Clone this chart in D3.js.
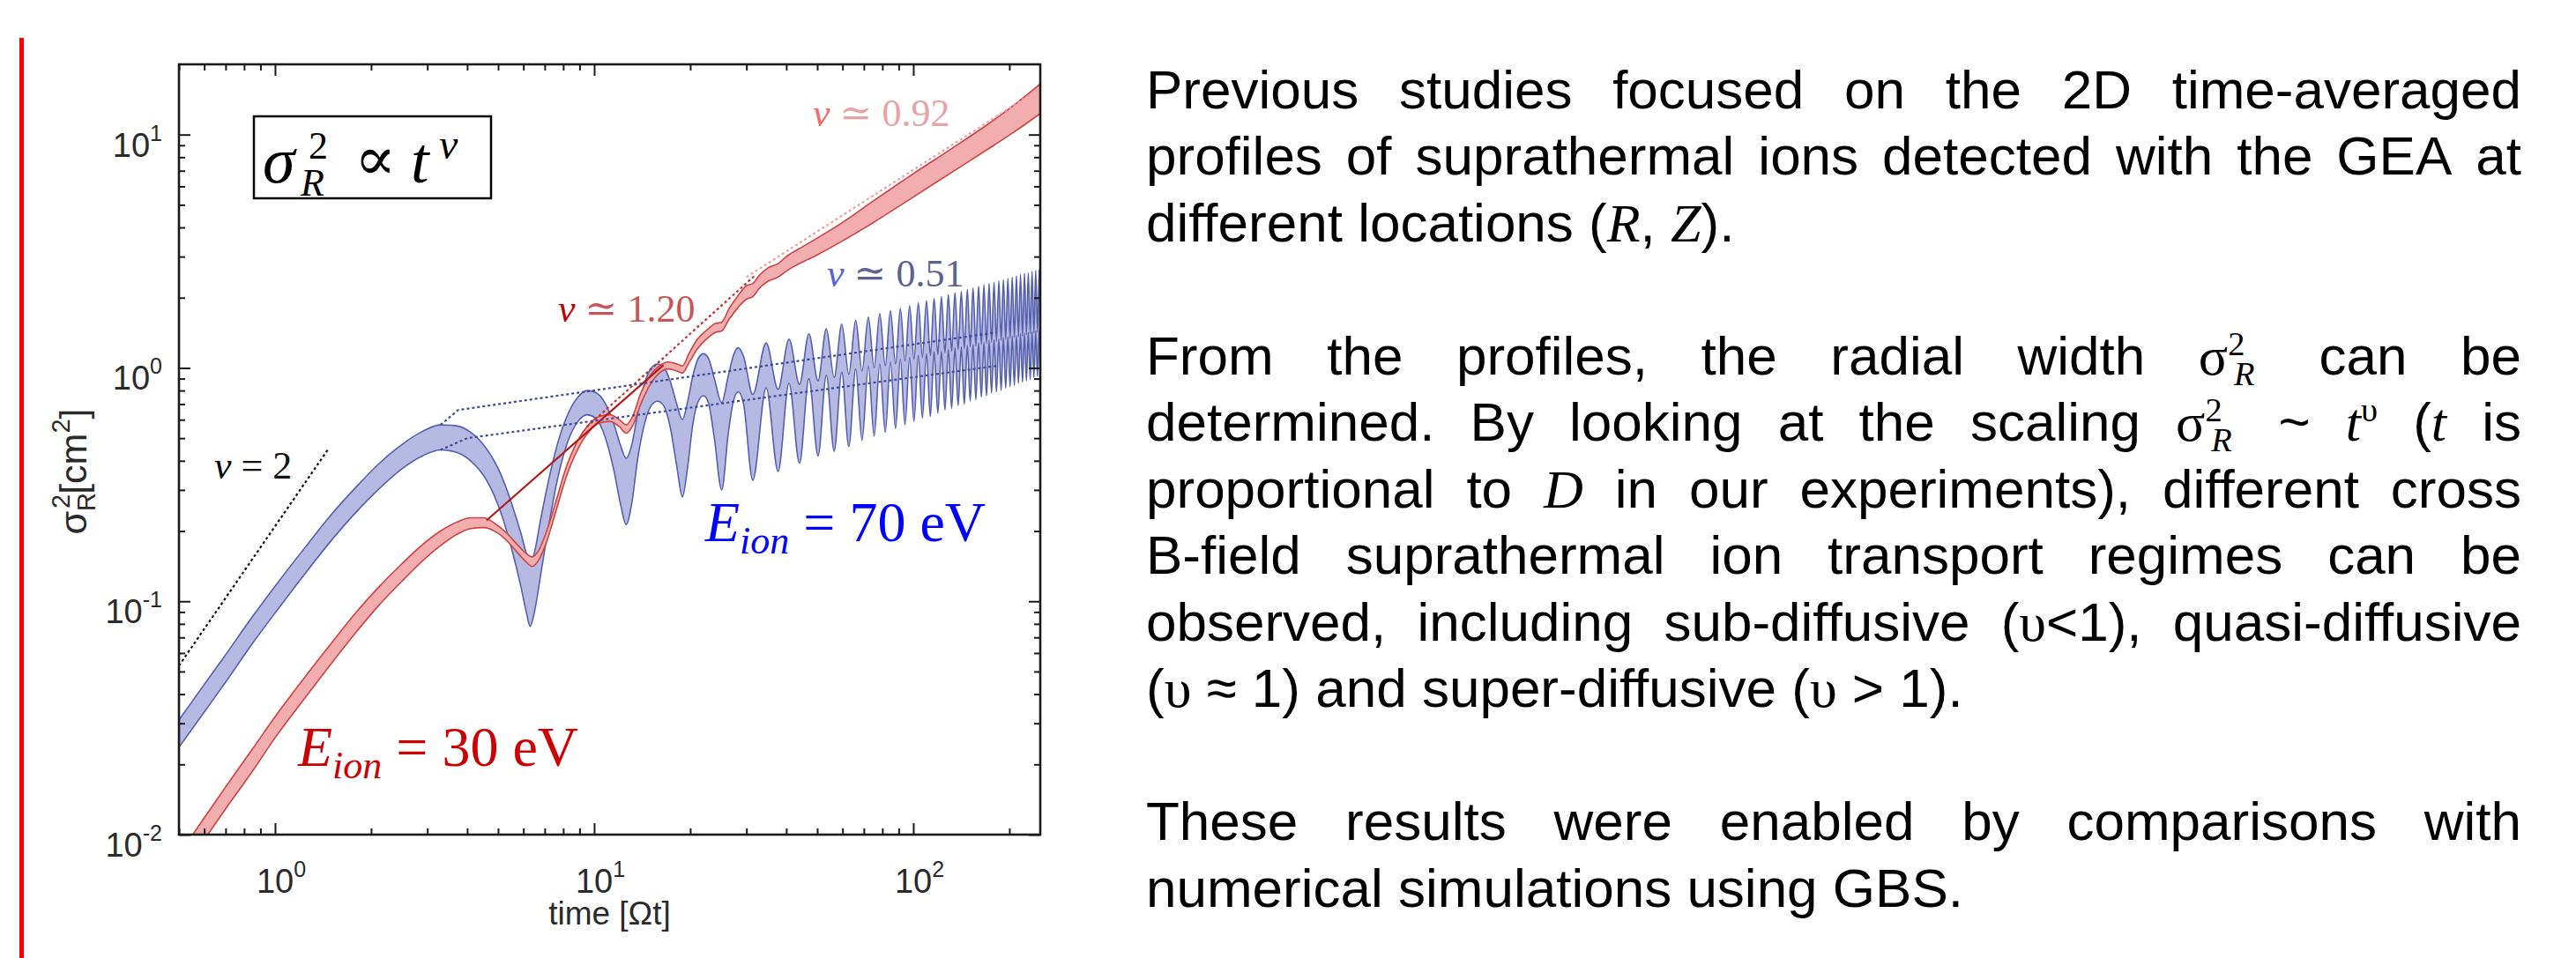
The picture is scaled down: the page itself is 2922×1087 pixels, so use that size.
<!DOCTYPE html>
<html>
<head>
<meta charset="utf-8">
<script src="https://cdn.jsdelivr.net/npm/d3@7"></script>
<style>
  body{margin:0;background:#fff}
  svg{display:block}
</style>
</head>
<body>
<svg id="slide"></svg>
<script>
// ---- values (time in units of Omega t, sigma_R^2 in cm^2) ----
var xMajor = [1, 10, 100]
var xExp = ["0", "1", "2"]
var xMinor = [0.5,0.6,0.7,0.8,0.9,2,3,4,5,6,7,8,9,20,30,40,50,60,70,80,90,200]
var yMajor = [0.01, 0.1, 1, 10]
var yExp = ["-2", "-1", "0", "1"]
var yMinor = [0.02,0.03,0.04,0.05,0.06,0.07,0.08,0.09,0.2,0.3,0.4,0.5,0.6,0.7,0.8,0.9,2,3,4,5,6,7,8,9]

// E_ion = 70 eV band
var blueTime = [0.5,0.6,0.7,0.85,1,1.25,1.5,1.8,2.1,2.5,2.9,3.3,3.7,4.1,4.6,5.1,5.5,5.9,6.15,6.3,
  6.5,6.8,7.2,7.7,8.3,8.9,9.5,10.1,10.8,11.5,12.1,12.6,13.1,13.7,14.4,15.1,15.8,16.5,17.3,18.2,
  18.9,19.6,20.4,21.2,22.0,22.8,23.8,25.1,26.3,27.3,28.3,29.4,31.4,
  34.6,37.7,40.8,44.0,47.1,50.3,53.4,56.5,59.7,62.8,66.0,69.1,72.3,75.4,78.5,81.7,84.8,88.0,
  91.1,94.2,97.4,100.5,103.7,106.8,110.0,113.1,116.2,119.4,122.5,125.7,128.8,131.9,135.1,138.2,
  141.4,144.5,147.7,150.8,153.9,157.1,160.2,163.4,166.5,169.6,172.8,175.9,179.1,182.2,185.4,188.5,
  191.6,194.8,197.9,201.1,204.2,207.3,210.5,213.6,216.8,219.9,223.1,226.2,229.3,232.5,235.6,238.8,
  241.9,245.0,248.2,250]
var blueUpper = [0.031,0.044,0.059,0.086,0.116,0.172,0.235,0.31,0.385,0.47,0.535,0.57,0.565,0.53,0.45,
  0.35,0.265,0.195,0.158,0.145,0.162,0.225,0.33,0.48,0.64,0.75,0.80,0.785,0.71,0.58,0.465,0.41,0.465,
  0.64,0.86,1.0,1.04,1.01,0.88,0.69,0.60,0.71,0.93,1.1,1.15,1.1,0.9,0.71,0.92,1.13,1.22,1.12,0.77,
  1.28,0.81,1.33,0.85,1.40,0.88,1.47,0.91,1.54,0.94,1.60,0.97,1.65,1.00,1.71,1.02,1.76,1.04,1.80,1.07,
  1.85,1.09,1.90,1.11,1.94,1.13,1.98,1.14,2.02,1.16,2.06,1.18,2.10,1.20,2.13,1.21,2.17,1.23,2.20,1.24,
  2.24,1.26,2.27,1.27,2.30,1.29,2.33,1.30,2.36,1.31,2.39,1.33,2.42,1.34,2.45,1.35,2.48,1.36,2.51,1.37,
  2.54,1.39,2.56,1.40,2.59,1.41,2.62,1.42,2.64,2.6]
var blueLower = [0.0237,0.0335,0.045,0.066,0.089,0.133,0.182,0.242,0.30,0.37,0.42,0.445,0.435,0.40,0.33,
  0.24,0.17,0.115,0.088,0.078,0.09,0.13,0.21,0.34,0.49,0.59,0.63,0.61,0.51,0.37,0.26,0.213,0.26,
  0.41,0.58,0.69,0.72,0.69,0.56,0.37,0.28,0.37,0.58,0.72,0.76,0.71,0.5,0.30,0.52,0.72,0.79,0.7,0.33,
  0.82,0.36,0.86,0.39,0.90,0.42,0.93,0.44,0.96,0.46,0.99,0.49,1.02,0.51,1.04,0.53,1.06,0.55,1.09,0.57,
  1.11,0.59,1.13,0.61,1.15,0.62,1.17,0.64,1.18,0.66,1.20,0.67,1.22,0.69,1.23,0.70,1.25,0.72,1.26,0.73,
  1.28,0.75,1.29,0.76,1.31,0.78,1.32,0.79,1.33,0.80,1.35,0.82,1.36,0.83,1.37,0.84,1.38,0.86,1.40,0.87,
  1.41,0.88,1.42,0.89,1.43,0.91,1.44,0.92,1.45,1.43]

// E_ion = 30 eV band
var redTime = [0.5,0.6,0.7,0.85,1,1.25,1.5,1.8,2.1,2.5,2.9,3.3,3.7,4.1,4.5,4.9,5.3,5.7,6.1,6.4,
  6.7,7.1,7.6,8.2,8.9,9.6,10.4,11.2,12.0,12.6,13.2,14.0,15.0,16.0,17.0,18.2,18.9,19.8,21,22.5,
  24,25.1,26.5,28.3,30,31.4,33,35,37.7,40,44,50,60,75,100,130,170,210,250]
var redUpper = [0.0082,0.0118,0.016,0.0233,0.032,0.048,0.066,0.09,0.114,0.145,0.175,0.2,0.218,0.228,0.228,
  0.215,0.197,0.177,0.161,0.155,0.165,0.2,0.27,0.38,0.49,0.57,0.62,0.63,0.60,0.57,0.62,0.78,0.93,1.02,1.06,
  1.04,1.02,1.15,1.32,1.45,1.55,1.57,1.8,2.05,2.25,2.3,2.5,2.68,2.8,3.0,3.25,3.6,4.2,5.2,6.8,8.6,11.0,13.6,16.5]
var redLower = [0.0066,0.0095,0.0129,0.0187,0.026,0.039,0.054,0.074,0.095,0.122,0.149,0.173,0.193,0.205,0.207,
  0.199,0.183,0.164,0.148,0.141,0.15,0.18,0.245,0.345,0.45,0.53,0.58,0.59,0.56,0.525,0.565,0.70,0.85,0.95,0.99,
  0.97,0.95,1.05,1.2,1.33,1.42,1.44,1.62,1.82,1.97,2.02,2.2,2.35,2.45,2.6,2.8,3.05,3.5,4.2,5.4,6.8,8.6,10.4,12.3]

// fitted power laws
var fit2 = [[0.5,0.053],[1.47,0.45]]
var fit120 = [[4.6,0.222],[16.5,1.03]]
var fit120dots = [[9.5,0.56],[32,2.5]]
var fit092dots = [[30,2.45],[250,15.8]]
var fit051hi = [[3.3,0.57],[3.75,0.66],[182,1.42]]
var fit051lo = [[3.3,0.445],[4.0,0.5],[182,1.02]]

// ---- layout ----
var W = 2922, H = 1087
var box = {left:203, top:73, right:1180, bottom:947}
var sans = "Arial, 'Liberation Sans', sans-serif"
var serif = "'Liberation Serif', 'Times New Roman', 'DejaVu Serif', serif"

var svg = d3.select("#slide").attr("width", W).attr("height", H)
svg.append("rect").attr("width", W).attr("height", H).attr("fill", "#fff")

// red bar on the left of the slide
svg.append("line")
   .attr("x1", 24.5).attr("x2", 24.5).attr("y1", 43).attr("y2", H)
   .attr("stroke", "#ff0000").attr("stroke-width", 5)

var x = d3.scaleLog().domain([0.5, 250]).range([box.left, box.right])
var y = d3.scaleLog().domain([0.01, 20]).range([box.bottom, box.top])

svg.append("clipPath").attr("id", "plotclip")
   .append("rect").attr("x", box.left).attr("y", box.top)
   .attr("width", box.right - box.left).attr("height", box.bottom - box.top)

var plot = svg.append("g").attr("clip-path", "url(#plotclip)")

var blueBand = blueTime.map((t, i) => ({t: t, hi: blueUpper[i], lo: blueLower[i]}))
var redBand = redTime.map((t, i) => ({t: t, hi: redUpper[i], lo: redLower[i]}))

var area = d3.area()
  .x(d => x(d.t)).y0(d => y(d.lo)).y1(d => y(d.hi))
  .curve(d3.curveMonotoneX)
var edge = key => d3.line().x(d => x(d.t)).y(d => y(d[key])).curve(d3.curveMonotoneX)
var straight = d3.line().x(d => x(d[0])).y(d => y(d[1]))

plot.append("path").datum(blueBand).attr("d", area).attr("fill", "#b6bae3")
plot.append("path").datum(blueBand).attr("d", edge("hi")).attr("fill", "none").attr("stroke", "#5560ad").attr("stroke-width", 1.6)
plot.append("path").datum(blueBand).attr("d", edge("lo")).attr("fill", "none").attr("stroke", "#5560ad").attr("stroke-width", 1.6)

plot.append("path").datum(redBand).attr("d", area).attr("fill", "#f2aeae")
plot.append("path").datum(redBand).attr("d", edge("hi")).attr("fill", "none").attr("stroke", "#cc4444").attr("stroke-width", 1.6)
plot.append("path").datum(redBand).attr("d", edge("lo")).attr("fill", "none").attr("stroke", "#cc4444").attr("stroke-width", 1.6)

plot.append("path").datum(fit120).attr("d", straight).attr("fill", "none").attr("stroke", "#b31b1b").attr("stroke-width", 2.2)
plot.append("path").datum(fit120dots).attr("d", straight).attr("fill", "none").attr("stroke", "#c03030").attr("stroke-width", 2.2).attr("stroke-dasharray", "3,3")
plot.append("path").datum(fit092dots).attr("d", straight).attr("fill", "none").attr("stroke", "#f0a0a0").attr("stroke-width", 2.2).attr("stroke-dasharray", "3,3")
plot.append("path").datum(fit051hi).attr("d", straight).attr("fill", "none").attr("stroke", "#3d4a9c").attr("stroke-width", 2.2).attr("stroke-dasharray", "3,3")
plot.append("path").datum(fit051lo).attr("d", straight).attr("fill", "none").attr("stroke", "#3d4a9c").attr("stroke-width", 2.2).attr("stroke-dasharray", "3,3")
plot.append("path").datum(fit2).attr("d", straight).attr("fill", "none").attr("stroke", "#111").attr("stroke-width", 2.2).attr("stroke-dasharray", "3,3")

// ---- axes: inward ticks on all four sides ----
function ticks(axisFn, scale, values, len, transform){
  var g = svg.append("g").attr("transform", transform)
     .call(axisFn(scale).tickValues(values).tickSize(-len).tickFormat(""))
  g.select(".domain").remove()
  g.selectAll("line").attr("stroke", "#1a1a1a").attr("stroke-width", 2)
}
ticks(d3.axisBottom, x, xMajor, 13, `translate(0,${box.bottom})`)
ticks(d3.axisBottom, x, xMinor, 7, `translate(0,${box.bottom})`)
ticks(d3.axisTop, x, xMajor, 13, `translate(0,${box.top})`)
ticks(d3.axisTop, x, xMinor, 7, `translate(0,${box.top})`)
ticks(d3.axisLeft, y, yMajor, 13, `translate(${box.left},0)`)
ticks(d3.axisLeft, y, yMinor, 7, `translate(${box.left},0)`)
ticks(d3.axisRight, y, yMajor, 13, `translate(${box.right},0)`)
ticks(d3.axisRight, y, yMinor, 7, `translate(${box.right},0)`)

svg.append("rect")
   .attr("x", box.left).attr("y", box.top)
   .attr("width", box.right - box.left).attr("height", box.bottom - box.top)
   .attr("fill", "none").attr("stroke", "#1a1a1a").attr("stroke-width", 2.6)

// tick labels 10^n
svg.selectAll(".xlab").data(xMajor).enter()
  .append("text").attr("class", "xlab")
  .attr("x", d => x(d) - 21).attr("y", 1013)
  .attr("font-family", sans).attr("font-size", 38).attr("fill", "#2a2a2a")
  .each(function(d, i){
    var t = d3.select(this)
    t.append("tspan").text("10")
    t.append("tspan").text(xExp[i]).attr("font-size", 25).attr("dy", -18)
  })

svg.selectAll(".ylab").data(yMajor).enter()
  .append("text").attr("class", "ylab")
  .attr("x", 184).attr("y", d => y(d) + 25)
  .attr("text-anchor", "end")
  .attr("font-family", sans).attr("font-size", 38).attr("fill", "#2a2a2a")
  .each(function(d, i){
    var t = d3.select(this)
    t.append("tspan").text("10")
    t.append("tspan").text(yExp[i]).attr("font-size", 25).attr("dy", -18)
  })

svg.append("text")
   .attr("x", (box.left + box.right) / 2).attr("y", 1049)
   .attr("text-anchor", "middle")
   .attr("font-family", sans).attr("font-size", 37).attr("fill", "#2a2a2a")
   .text("time [Ωt]")

var ylab = svg.append("text")
   .attr("transform", "translate(98,535) rotate(-90)")
   .attr("text-anchor", "middle")
   .attr("font-family", sans).attr("font-size", 43).attr("fill", "#2a2a2a")
ylab.append("tspan").text("σ")
ylab.append("tspan").text("R").attr("font-size", 29).attr("dy", 10)
ylab.append("tspan").text("2").attr("font-size", 29).attr("dx", -18).attr("dy", -29)
ylab.append("tspan").text("[cm").attr("dy", 19)
ylab.append("tspan").text("2").attr("font-size", 29).attr("dy", -19)
ylab.append("tspan").text("]").attr("dy", 19)

// ---- annotations inside the plot ----
svg.append("rect").attr("x", 288).attr("y", 132).attr("width", 269).attr("height", 93)
   .attr("fill", "#fff").attr("stroke", "#000").attr("stroke-width", 2.5)
var law = svg.append("text").attr("font-family", serif).attr("fill", "#000")
law.append("tspan").attr("x", 298).attr("y", 207).attr("font-size", 74).attr("font-style", "italic").text("σ")
law.append("tspan").attr("x", 350).attr("y", 180).attr("font-size", 44).text("2")
law.append("tspan").attr("x", 341).attr("y", 222).attr("font-size", 44).attr("font-style", "italic").text("R")
law.append("tspan").attr("x", 402).attr("y", 204).attr("font-size", 70).text("∝")
law.append("tspan").attr("x", 466).attr("y", 207).attr("font-size", 74).attr("font-style", "italic").text("t")
law.append("tspan").attr("x", 498).attr("y", 180).attr("font-size", 48).attr("font-style", "italic").text("ν")

function slope(xp, yp, nuColor, restColor, rest){
  var t = svg.append("text").attr("x", xp).attr("y", yp)
     .attr("font-family", serif).attr("font-size", 44)
  t.append("tspan").attr("font-style", "italic").attr("fill", nuColor).text("ν")
  t.append("tspan").attr("fill", restColor).text(rest)
}
slope(922, 143, "#f06c6c", "#e6a4a4", "  ≃ 0.92")
slope(633, 365, "#c00000", "#c45858", "  ≃ 1.20")
slope(938, 325, "#5a5fd6", "#5c628e", " ≃ 0.51")
slope(243, 543, "#000", "#111", " = 2")

function energy(xp, yp, color, rest){
  var t = svg.append("text").attr("x", xp).attr("y", yp)
     .attr("font-family", serif).attr("font-size", 64).attr("fill", color)
  t.append("tspan").attr("font-style", "italic").text("E")
  t.append("tspan").attr("font-style", "italic").attr("font-size", 44).attr("dy", 14).text("ion")
  t.append("tspan").attr("dy", -14).text(rest)
}
energy(800, 614, "#0000ff", " = 70 eV")
energy(338, 869, "#cc0000", " = 30 eV")

// ---- body text, justified between x0 and x1 ----
var x0 = 1300, x1 = 2860, fs = 62
var sigR = [["σ","mu"],["2","sup"],["R","subi"]]
var bodyLines = [
  {y:123, j:1, w:["Previous","studies","focused","on","the","2D","time-averaged"]},
  {y:198, j:1, w:["profiles","of","suprathermal","ions","detected","with","the","GEA","at"]},
  {y:274, j:0, w:["different","locations",[["("],["R","m"],[","]],[["Z","m"],[")."]]]},
  {y:425, j:1, w:["From","the","profiles,","the","radial","width",sigR,"can","be"]},
  {y:500, j:1, w:["determined.","By","looking","at","the","scaling",sigR,"~",[["t","m"],["υ","sup"]],[["("],["t","m"]],"is"]},
  {y:576, j:1, w:["proportional","to",[["D","m"]],"in","our","experiments),","different","cross"]},
  {y:651, j:1, w:["B-field","suprathermal","ion","transport","regimes","can","be"]},
  {y:727, j:1, w:["observed,","including","sub-diffusive",[["("],["υ","mu"],["<1),"]],"quasi-diffusive"]},
  {y:802, j:0, w:[[["("],["υ","mu"]],"≈","1)","and","super-diffusive",[["("],["υ","mu"]],">","1)."]},
  {y:953, j:1, w:["These","results","were","enabled","by","comparisons","with"]},
  {y:1029, j:0, w:["numerical","simulations","using","GBS."]}
]

bodyLines.forEach(line => {
  var words = line.w.map(w => {
    var runs = typeof w === "string" ? [[w]] : w
    var t = svg.append("text").attr("y", line.y)
       .attr("font-family", sans).attr("font-size", fs).attr("fill", "#000")
    var shift = 0
    runs.forEach(r => {
      var kind = r[1] || ""
      var target = kind === "sup" ? -0.36 * fs : kind.indexOf("sub") === 0 ? 0.2 * fs : 0
      var ts = t.append("tspan").text(r[0]).attr("dy", target - shift)
      if (kind) ts.attr("font-family", serif)
      if (kind === "m" || kind === "subi") ts.attr("font-style", "italic")
      if (kind === "sup" || kind.indexOf("sub") === 0) ts.attr("font-size", fs * 0.62)
      if (kind === "subi") ts.attr("dx", -fs * 0.2)
      shift = target
    })
    return t
  })
  var widths = words.map(t => t.node().getComputedTextLength())
  var total = d3.sum(widths)
  var gap = line.j ? (x1 - x0 - total) / (words.length - 1) : fs * 0.278
  var cur = x0
  words.forEach((t, i) => { t.attr("x", cur); cur += widths[i] + gap })
})
</script>
</body>
</html>
